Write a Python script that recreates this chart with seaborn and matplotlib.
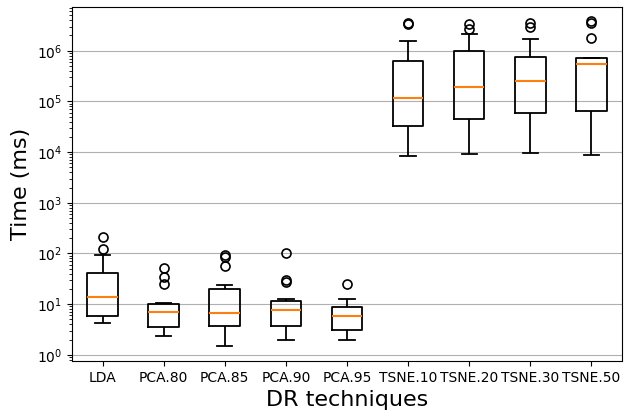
import pandas as pd
import matplotlib
matplotlib.use("Agg")
import matplotlib.pyplot as plt
import seaborn as sns

techniques = ["LDA", "PCA.80", "PCA.85", "PCA.90", "PCA.95",
              "TSNE.10", "TSNE.20", "TSNE.30", "TSNE.50"]

# run times in ms (whisker ends, quartiles, median, outliers)
lda = [4.3, 4.8, 5.2, 5.5, 5.8, 7.5, 9.8, 12, 14, 18, 25, 33, 41, 55, 92, 122, 212]
pca80 = [2.4, 2.8, 3.1, 3.3, 3.46, 4.5, 5.6, 6.4, 7.05, 8.0, 9.1, 9.8, 10.2, 10.3,
         24.8, 34.5, 52.7]
pca85 = [1.48, 2.3, 2.9, 3.4, 3.78, 4.5, 5.3, 6.0, 6.64, 8.5, 11.5, 15.5, 19.7, 24,
         57, 85, 92]
pca90 = [2.0, 2.6, 3.1, 3.5, 3.73, 4.8, 5.9, 6.9, 7.7, 8.8, 9.9, 10.8, 11.5, 12.7,
         27.5, 30, 101]
pca95 = [2.0, 2.4, 2.7, 2.9, 3.11, 3.9, 4.6, 5.2, 5.8, 6.6, 7.4, 8.2, 8.97, 10.2,
         11.5, 12.9, 25]
tsne10 = [8.2e3, 1.3e4, 1.9e4, 2.6e4, 3.2e4, 4.6e4, 6.5e4, 9.0e4, 1.15e5, 1.8e5,
          2.9e5, 4.5e5, 6.4e5, 9.5e5, 1.53e6, 3.3e6, 3.5e6]
tsne20 = [9.1e3, 1.5e4, 2.4e4, 3.4e4, 4.6e4, 7.0e4, 1.0e5, 1.4e5, 1.96e5, 3.0e5,
          4.6e5, 7.0e5, 1.0e6, 1.5e6, 2.1e6, 2.7e6, 3.4e6]
tsne30 = [9.7e3, 1.8e4, 3.0e4, 4.4e4, 6.0e4, 9.0e4, 1.3e5, 1.9e5, 2.5e5, 3.5e5,
          4.6e5, 6.0e5, 7.5e5, 1.1e6, 1.7e6, 3.0e6, 3.45e6]
tsne50 = [8.6e3, 1.7e4, 3.0e4, 4.6e4, 6.5e4, 1.3e5, 2.5e5, 4.0e5, 5.6e5, 6.1e5,
          6.5e5, 6.8e5, 7.1e5, 7.15e5, 1.78e6, 3.45e6, 3.8e6]

times = [lda, pca80, pca85, pca90, pca95, tsne10, tsne20, tsne30, tsne50]

rows = []
for name, vals in zip(techniques, times):
    for v in vals:
        rows.append({"technique": name, "time": v})
df = pd.DataFrame(rows)

fig, ax = plt.subplots(figsize=(6.26, 4.11), dpi=100)
fig.subplots_adjust(left=0.115, right=0.9936, bottom=0.122, top=0.983)

sns.boxplot(data=df, x="technique", y="time", order=techniques, ax=ax,
            fill=False, color="black", linewidth=1.3, width=0.5, whis=1.5,
            medianprops={"color": "#ff7f0e", "linewidth": 1.5},
            flierprops={"marker": "o", "markersize": 6.5, "markeredgewidth": 1.2,
                        "markerfacecolor": "none", "markeredgecolor": "black"})

ax.set_yscale("log")
ax.set_ylim(0.76, 7.3e6)
ax.set_xlim(-0.5, len(techniques) - 0.5)
ax.yaxis.grid(True, color="#b0b0b0", linewidth=0.8)
ax.set_axisbelow(True)
ax.set_xlabel("DR techniques", fontsize=16)
ax.set_ylabel("Time (ms)", fontsize=16)
ax.tick_params(labelsize=10)

fig.savefig("out.png", dpi=100)
